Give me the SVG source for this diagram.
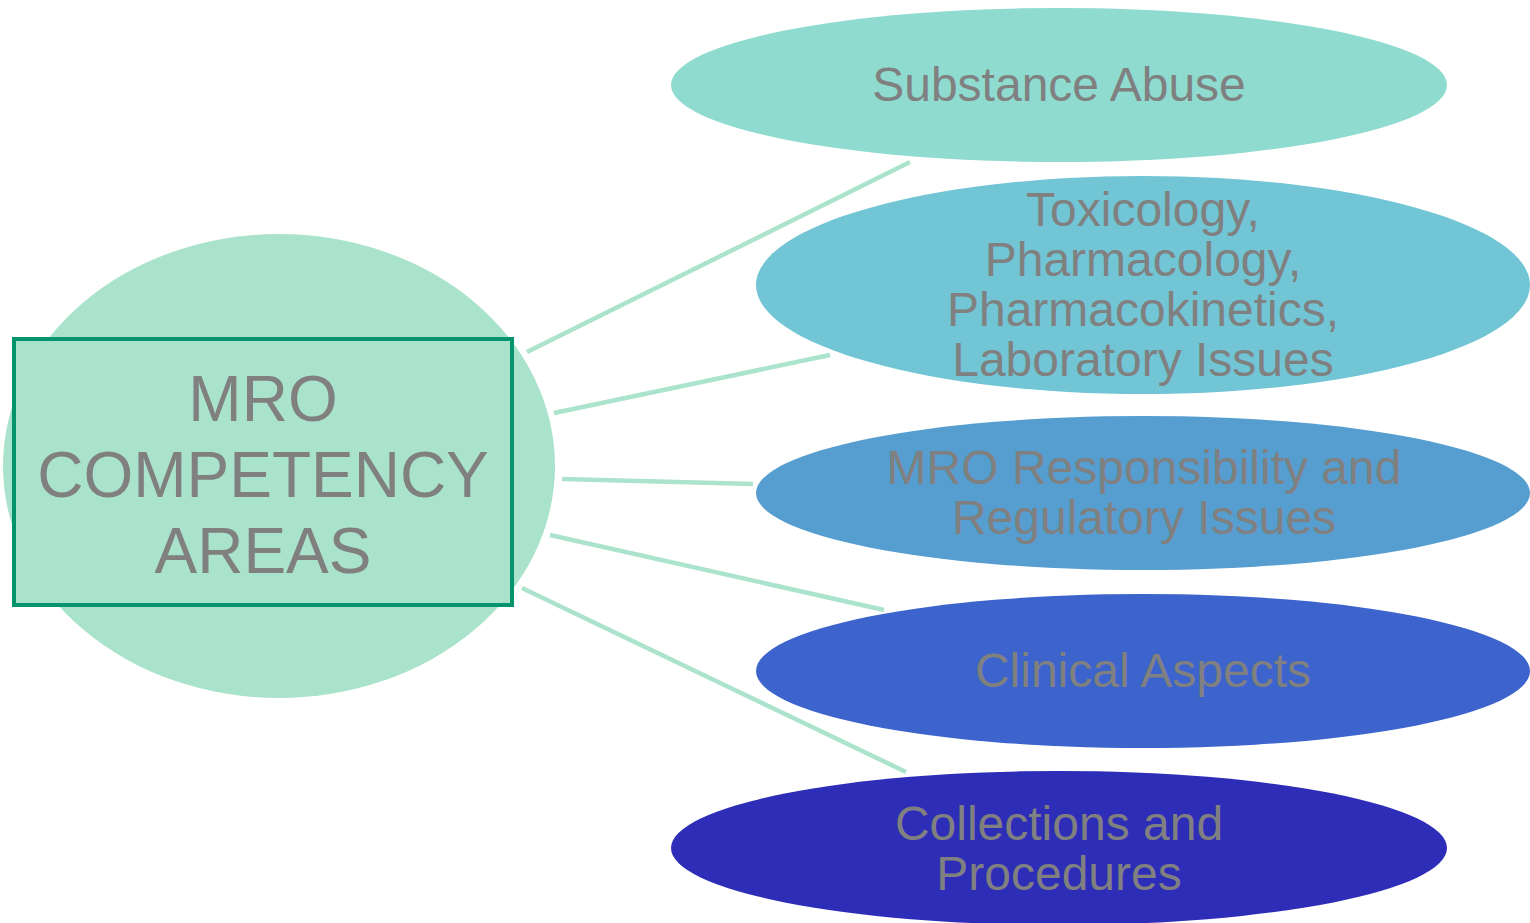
<svg xmlns="http://www.w3.org/2000/svg" width="1530" height="923" viewBox="0 0 1530 923">
<style>
.lbl{font-family:"Liberation Sans",Arial,sans-serif;fill:#808080;text-anchor:middle}
.sub{font-size:48px}
.conn{stroke:#abe3cc;stroke-width:4.5;fill:none}
</style>
<rect width="1530" height="923" fill="#ffffff"/>
<g id="connectors">
<line class="conn" x1="527" y1="352" x2="910" y2="162"/>
<line class="conn" x1="554" y1="413" x2="830" y2="355"/>
<line class="conn" x1="562" y1="479" x2="753" y2="484"/>
<line class="conn" x1="550" y1="535" x2="884" y2="610"/>
<line class="conn" x1="522" y1="588" x2="906" y2="772"/>
</g>
<g id="center">
<ellipse cx="279" cy="466" rx="276" ry="232" fill="#aae3cb"/>
<rect x="14" y="339" width="498" height="266" fill="#aae3cb" stroke="#03946c" stroke-width="4"/>
<text class="lbl" font-size="64" x="263" y="421">MRO</text>
<text class="lbl" font-size="64" x="263" y="497">COMPETENCY</text>
<text class="lbl" font-size="64" x="263" y="573">AREAS</text>
</g>
<g id="n1">
<ellipse cx="1059" cy="85" rx="388" ry="77" fill="#8fdbd0"/>
<text class="lbl sub" x="1059" y="101">Substance Abuse</text>
</g>
<g id="n2">
<ellipse cx="1143" cy="285" rx="387" ry="109" fill="#72c5d4"/>
<text class="lbl sub" x="1143" y="226">Toxicology,</text>
<text class="lbl sub" x="1143" y="276">Pharmacology,</text>
<text class="lbl sub" x="1143" y="326">Pharmacokinetics,</text>
<text class="lbl sub" x="1143" y="376">Laboratory Issues</text>
</g>
<g id="n3">
<ellipse cx="1143" cy="493" rx="387" ry="77" fill="#569dd0"/>
<text class="lbl sub" x="1144" y="484">MRO Responsibility and</text>
<text class="lbl sub" x="1144" y="534">Regulatory Issues</text>
</g>
<g id="n4">
<ellipse cx="1143" cy="671" rx="387" ry="77" fill="#3c64cc"/>
<text class="lbl sub" x="1143" y="687">Clinical Aspects</text>
</g>
<g id="n5">
<ellipse cx="1059" cy="848" rx="388" ry="77" fill="#2e2db8"/>
<text class="lbl sub" x="1059" y="840">Collections and</text>
<text class="lbl sub" x="1059" y="890">Procedures</text>
</g>
</svg>
